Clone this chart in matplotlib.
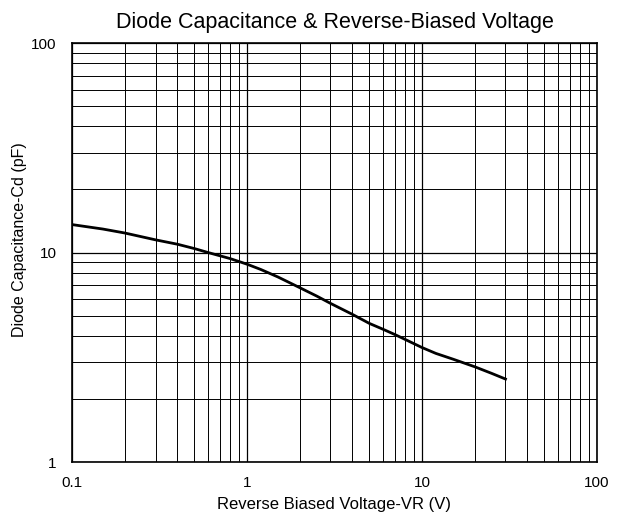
import matplotlib
matplotlib.use("Agg")
import matplotlib.pyplot as plt
from matplotlib.ticker import LogLocator, NullFormatter

plt.rcParams['font.family'] = ['Liberation Sans', 'DejaVu Sans']

voltage = [0.1, 0.15, 0.2, 0.3, 0.4, 0.5, 0.6, 0.8, 1.0, 1.2, 1.5, 2.0, 2.5, 3.0, 4.0, 5.0, 6.0, 7.0, 8.0, 10.0, 12.0, 15.0, 20.0, 25.0, 30.0]
capacitance = [13.6, 12.95, 12.4, 11.5, 10.96, 10.45, 10.0, 9.36, 8.8, 8.3, 7.65, 6.8, 6.2, 5.72, 5.07, 4.59, 4.30, 4.06, 3.85, 3.52, 3.30, 3.10, 2.85, 2.65, 2.49]

x_ticks = [0.1, 1, 10, 100]
x_tick_labels = ["0.1", "1", "10", "100"]
y_ticks = [1, 10, 100]
y_tick_labels = ["1", "10", "100"]

fig = plt.figure(figsize=(6.24, 5.13), dpi=100)
ax = fig.add_axes([0.1154, 0.0994, 0.8413, 0.8166])

ax.plot(voltage, capacitance, color='black', linewidth=2.0)
ax.set_xscale('log')
ax.set_yscale('log')
ax.set_xlim(0.1, 100)
ax.set_ylim(1, 100)

ax.set_xticks(x_ticks)
ax.set_xticklabels(x_tick_labels)
ax.set_yticks(y_ticks)
ax.set_yticklabels(y_tick_labels)
ax.xaxis.set_minor_locator(LogLocator(base=10, subs=range(2, 10)))
ax.yaxis.set_minor_locator(LogLocator(base=10, subs=range(2, 10)))
ax.xaxis.set_minor_formatter(NullFormatter())
ax.yaxis.set_minor_formatter(NullFormatter())

ax.grid(True, which='major', color='black', linewidth=0.9)
ax.grid(True, which='minor', color='black', linewidth=0.7)
ax.tick_params(which='both', length=0, labelsize=11)
ax.tick_params(axis='x', pad=10)
ax.tick_params(axis='y', pad=11)
for s in ax.spines.values():
    s.set_color('black')
    s.set_linewidth(1.2)

ax.set_title("Diode Capacitance & Reverse-Biased Voltage", fontsize=15.5, pad=11)
ax.set_xlabel("Reverse Biased Voltage-VR (V)", fontsize=12, labelpad=5)
ax.set_ylabel("Diode Capacitance-Cd (pF)", fontsize=11.5, labelpad=10)
ax.yaxis.set_label_coords(-0.085, 0.53)

fig.savefig("out.png", dpi=100)
